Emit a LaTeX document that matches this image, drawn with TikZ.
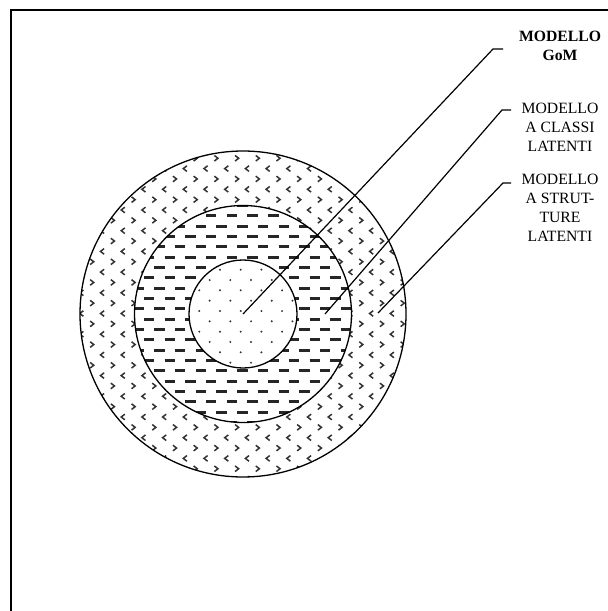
\documentclass[tikz,border=0pt]{standalone}
\usepackage{fontspec}
\setmainfont{Liberation Serif}
\begin{document}
\begin{tikzpicture}[x=1pt,y=-1pt,
  ringline/.style={line width=1.3pt},
  leaderline/.style={line width=1.2pt},
  framerule/.style={line width=2pt},
  lbl/.style={anchor=north,inner sep=0pt,align=center,font=\fontsize{15.7}{19}\selectfont},
  dashmark/.style={line width=2.8pt,draw=black!85},
  dotmark/.style={fill=black!80},
  chev/.style={line width=1.5pt,draw=black!80}]
\useasboundingbox (0,0) rectangle (608,611);
\fill[white] (0,0) rectangle (608,611);
\draw[framerule] (11,611) -- (11,9.5) -- (608,9.5);
\coordinate (c) at (243,314);
% outer ring: chevrons
\begin{scope}
  \clip (c) circle (163pt);
  \foreach \k in {0,...,40} {
    \pgfmathsetmacro\yy{210+(\k-10)*10.35}
    \pgfmathtruncatemacro\parity{mod(\k,2)}
    \foreach \m in {0,...,20} {
      \pgfmathsetmacro\xx{123+(\m-4)*20.7+\parity*10.35}
      \ifnum\parity=0
        \draw[chev] (\xx+1.8,\yy-2.8) -- (\xx-1.8,\yy) -- (\xx+1.8,\yy+2.8);
      \else
        \draw[chev] (\xx-1.8,\yy-2.8) -- (\xx+1.8,\yy) -- (\xx-1.8,\yy+2.8);
      \fi
    }
  }
\end{scope}
\fill[white] (c) circle (108.5pt);
% middle ring: dashes
\begin{scope}
  \clip (c) circle (108.5pt);
  \foreach \k in {0,...,21} {
    \pgfmathsetmacro\yy{314+(\k-10.5)*10.33}
    \pgfmathsetmacro\off{mod(\k,2)*10.35}
    \foreach \m in {-6,...,6} {
      \pgfmathsetmacro\xx{242.3+\m*20.7+\off}
      \draw[dashmark] (\xx-5.2,\yy) -- (\xx+5.2,\yy);
    }
  }
\end{scope}
\fill[white] (c) circle (54pt);
% inner disc: dots
\begin{scope}
  \clip (c) circle (54pt);
  \foreach \k in {0,...,12} {
    \pgfmathsetmacro\yy{311+(\k-6)*10.33}
    \pgfmathsetmacro\off{mod(\k,2)*10.35}
    \foreach \m in {-3,...,3} {
      \pgfmathsetmacro\xx{240.7+\m*20.7-\off}
      \fill[dotmark] (\xx,\yy) circle (1.1pt);
    }
  }
\end{scope}
\draw[ringline] (c) circle (163pt);
\draw[ringline] (c) circle (108.5pt);
\draw[ringline] (c) circle (54pt);
% labels
\node[lbl,font=\fontsize{15.7}{19}\selectfont\bfseries] (gom) at (560,30.8) {MODELLO\\GoM};
\node[lbl] (lca) at (560,102.8) {MODELLO\\A CLASSI\\LATENTI};
\node[lbl] (lsa) at (560,173.8) {MODELLO\\A STRUT-\\TURE\\LATENTI};
% leaders
\coordinate (a0) at (243,314);
\coordinate (a1) at (493,49);
\coordinate (a2) at (503,49);
\coordinate (b0) at (325,314);
\coordinate (b1) at (502,110);
\coordinate (b2) at (511,110);
\coordinate (d0) at (378,313);
\coordinate (d1) at (503,183);
\coordinate (d2) at (511,183);
\draw[leaderline] (a0) -- (a1) -- (a2);
\draw[leaderline] (b0) -- (b1) -- (b2);
\draw[leaderline] (d0) -- (d1) -- (d2);
\end{tikzpicture}
\end{document}
